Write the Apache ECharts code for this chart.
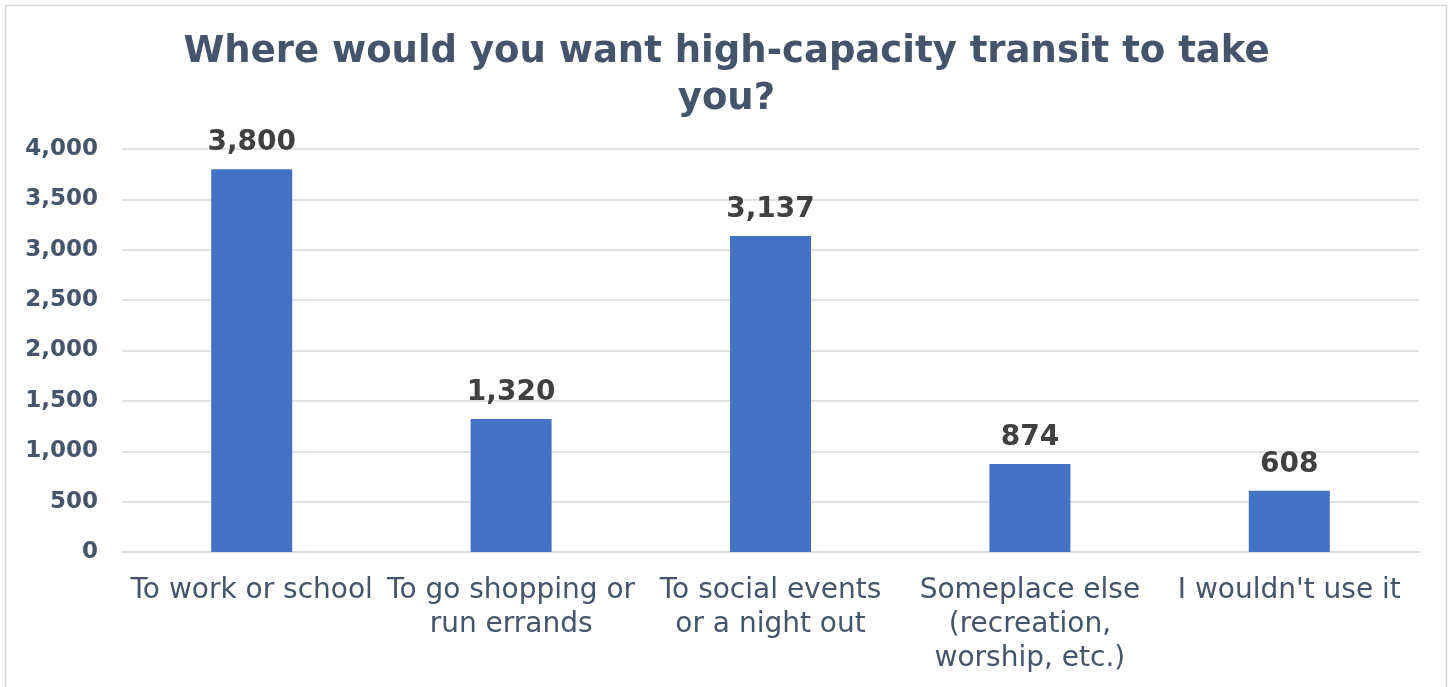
<!DOCTYPE html>
<html><head><meta charset="utf-8">
<script src="https://cdn.jsdelivr.net/npm/echarts@6/dist/echarts.min.js"></script>
<style>html,body{margin:0;padding:0;background:#fff}#c{width:1453px;height:687px}</style>
</head><body><div id="c"></div>
<script>
const categories = ["To work or school", "To go shopping or\nrun errands", "To social events\nor a night out", "Someplace else\n(recreation,\nworship, etc.)", "I wouldn't use it"];
const values = [3800, 1320, 3137, 874, 608];
const titleText = "Where would you want high-capacity transit to take\nyou?";

const chart = echarts.init(document.getElementById('c'), null, {renderer:'canvas'});
chart.setOption({
  backgroundColor: '#fff',
  animation: false,
  graphic: [{type:'rect', shape:{x:5.5,y:5.5,width:1441,height:690}, style:{fill:'none', stroke:'#D9D9D9', lineWidth:1.5}}],
  title: {
    text: titleText, left: 'center', top: 24,
    textStyle: {fontFamily:'DejaVu Sans', fontWeight:'bold', fontSize:37, color:'#44546A', lineHeight:47}
  },
  grid: {left:122, right:34, top:149, bottom:135, containLabel:false},
  xAxis: {
    type:'category', data: categories,
    axisLine:{lineStyle:{color:'#D9D9D9', width:1.5}},
    axisTick:{show:false},
    axisLabel:{fontFamily:'DejaVu Sans', fontSize:28, color:'#44546A', lineHeight:34, margin:22, interval:0}
  },
  yAxis: {
    type:'value', min:0, max:4000, interval:500,
    axisLine:{show:false}, axisTick:{show:false},
    splitLine:{lineStyle:{color:'#D9D9D9', width:1.5}},
    axisLabel:{fontFamily:'DejaVu Sans', fontWeight:'bold', fontSize:23, color:'#44546A', margin:24,
      formatter: v => v.toLocaleString('en-US')}
  },
  series: [{
    type:'bar', data: values, barWidth:81,
    itemStyle:{color:'#4472C4'},
    label:{show:true, position:'top', distance:12, fontFamily:'DejaVu Sans', fontWeight:'bold', fontSize:28, color:'#404040',
      formatter: p => p.value.toLocaleString('en-US')}
  }]
});
</script></body></html>
